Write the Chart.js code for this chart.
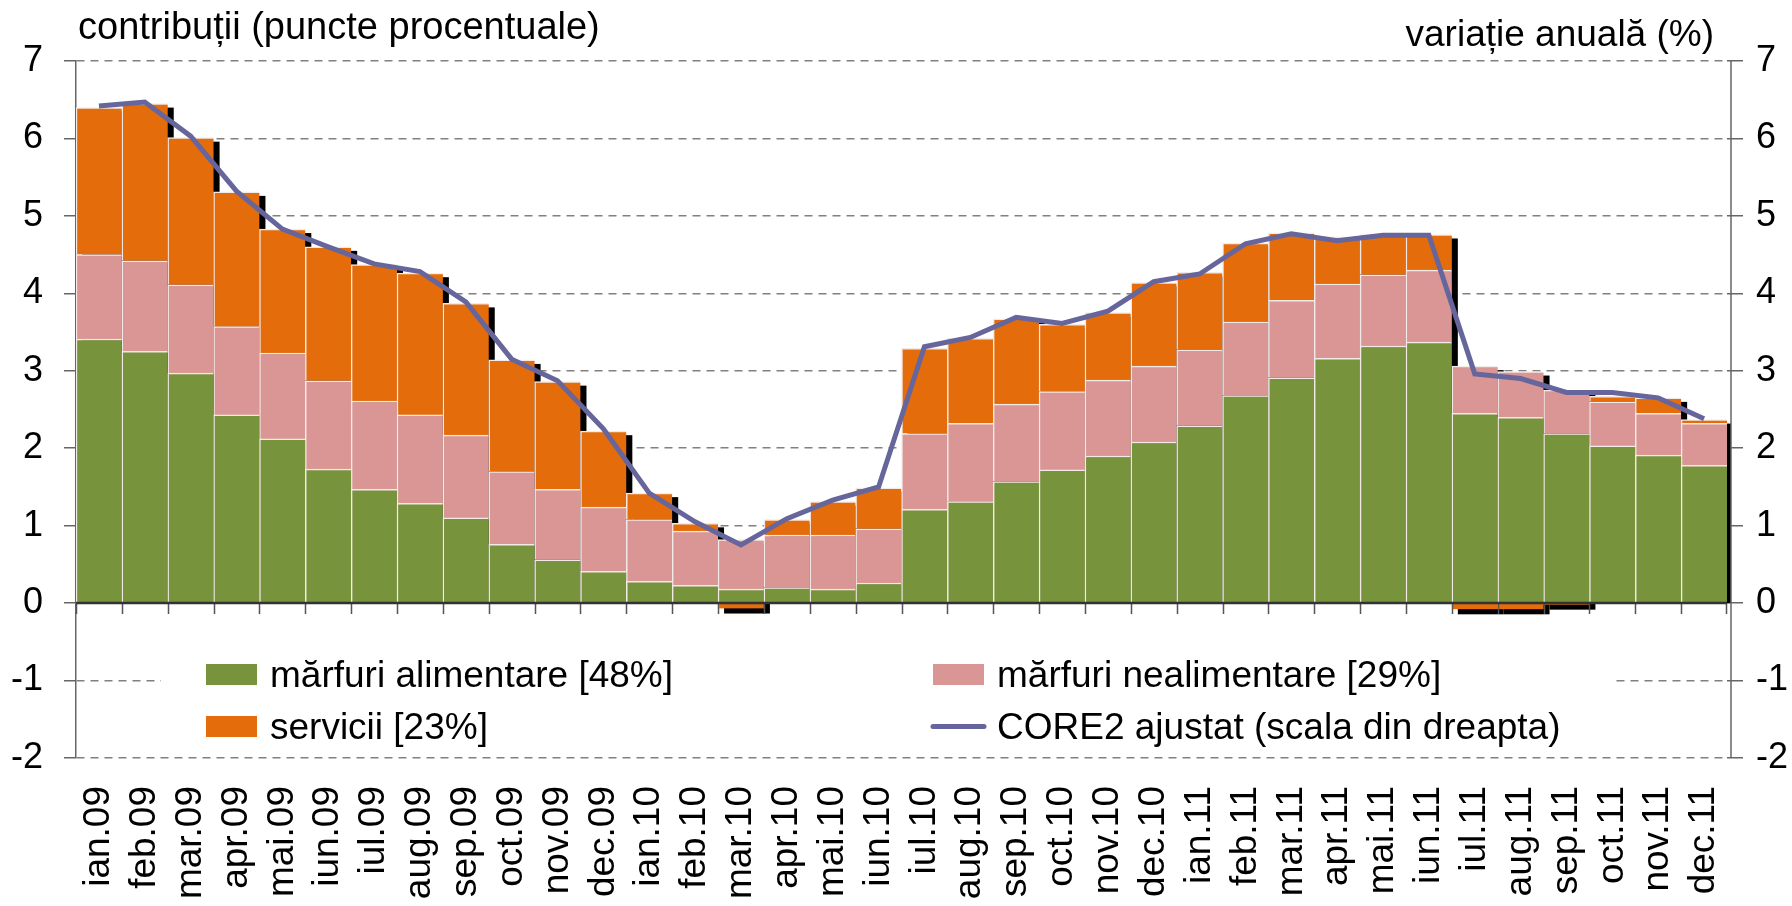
<!DOCTYPE html>
<html lang="ro">
<head>
<meta charset="utf-8">
<title>Contribuții la inflația CORE2 ajustat</title>
<script src="https://cdn.jsdelivr.net/npm/chart.js@4.4.1/dist/chart.umd.min.js"></script>
<style>
  html, body { margin: 0; padding: 0; background: #fff; }
  #wrap { width: 1792px; height: 906px; }
</style>
</head>
<body>
<div id="wrap"><canvas id="chart" width="1792" height="906"></canvas></div>
<script>
// ------------------------------------------------------------
// Date
// ------------------------------------------------------------
const luni = [
  "ian.09", "feb.09", "mar.09", "apr.09", "mai.09", "iun.09",
  "iul.09", "aug.09", "sep.09", "oct.09", "nov.09", "dec.09",
  "ian.10", "feb.10", "mar.10", "apr.10", "mai.10", "iun.10",
  "iul.10", "aug.10", "sep.10", "oct.10", "nov.10", "dec.10",
  "ian.11", "feb.11", "mar.11", "apr.11", "mai.11", "iun.11",
  "iul.11", "aug.11", "sep.11", "oct.11", "nov.11", "dec.11"
];

// contribuții (puncte procentuale)
const alimentare = [
  3.41, 3.25, 2.97, 2.43, 2.12, 1.73, 1.47, 1.29, 1.10, 0.76, 0.56, 0.41,
  0.28, 0.23, 0.18, 0.20, 0.18, 0.26, 1.21, 1.31, 1.57, 1.72, 1.90, 2.08,
  2.29, 2.68, 2.91, 3.16, 3.32, 3.37, 2.45, 2.40, 2.19, 2.03, 1.91, 1.78
];
const nealimentare = [
  1.09, 1.17, 1.14, 1.14, 1.11, 1.14, 1.14, 1.14, 1.07, 0.94, 0.91, 0.83,
  0.80, 0.70, 0.64, 0.68, 0.70, 0.70, 0.98, 1.01, 1.00, 1.01, 0.98, 0.98,
  0.98, 0.95, 1.00, 0.96, 0.92, 0.93, 0.61, 0.59, 0.56, 0.57, 0.54, 0.54
];
const servicii = [
  1.90, 2.03, 1.90, 1.74, 1.60, 1.73, 1.76, 1.83, 1.70, 1.44, 1.39, 0.98,
  0.34, 0.10, -0.07, 0.20, 0.43, 0.53, 1.10, 1.10, 1.10, 0.87, 0.87, 1.08,
  1.00, 1.02, 0.87, 0.61, 0.52, 0.46, -0.08, -0.08, -0.02, 0.07, 0.20, 0.05
];
// variație anuală (%)
const core2 = [
  6.42, 6.47, 6.03, 5.32, 4.83, 4.60, 4.38, 4.28, 3.89, 3.15, 2.87, 2.25,
  1.42, 1.05, 0.75, 1.09, 1.33, 1.50, 3.31, 3.43, 3.69, 3.61, 3.77, 4.15,
  4.25, 4.64, 4.77, 4.68, 4.75, 4.75, 2.96, 2.90, 2.72, 2.72, 2.65, 2.38
];

const yMin = -2, yMax = 7;

// ------------------------------------------------------------
// Stil
// ------------------------------------------------------------
const FONT = "'Liberation Sans', Arial, sans-serif";
const C_ALIM = "#77933c";
const C_NEAL = "#d99694";
const C_SERV = "#e46c0a";
const C_CORE = "#66669c";
const C_SEP  = "#f3e9e6";

// umbra neagră a coloanelor (ca în Excel), sub toate seriile
const shadowPlugin = {
  id: "barShadow",
  beforeDatasetsDraw(chart) {
    const { ctx, chartArea, scales: { y } } = chart;
    const meta = chart.getDatasetMeta(1);
    const y0 = y.getPixelForValue(0);
    ctx.save();
    ctx.beginPath();
    ctx.rect(chartArea.left, chartArea.top, chartArea.right + 4 - chartArea.left, chartArea.bottom - chartArea.top);
    ctx.clip();
    ctx.fillStyle = "#000";
    meta.data.forEach((bar, i) => {
      const vals = [alimentare[i], nealimentare[i], servicii[i]];
      const pos = vals.filter(v => v > 0).reduce((a, b) => a + b, 0);
      const neg = vals.filter(v => v < 0).reduce((a, b) => a + b, 0);
      const left = bar.x - bar.width / 2 + 6;
      if (pos > 0) {
        const top = y.getPixelForValue(pos) + 4;
        ctx.fillRect(left, top, bar.width, y0 - top);
      }
      if (neg < 0) {
        const bot = y.getPixelForValue(neg) + 5;
        ctx.fillRect(left, y0, bar.width, bot - y0);
      }
    });
    ctx.restore();
  }
};

// axa categoriilor la 0, axa din dreapta, legenda și titlurile
const decorPlugin = {
  id: "decor",
  afterDatasetsDraw(chart) {
    const { ctx, chartArea, scales: { y } } = chart;
    const y0 = y.getPixelForValue(0);
    const meta = chart.getDatasetMeta(1);

    ctx.save();
    ctx.strokeStyle = "#555";
    ctx.lineWidth = 1.5;
    ctx.beginPath();
    meta.data.forEach((bar, i) => {
      const xl = Math.round(bar.x - bar.width / 2) + 0.5;
      ctx.moveTo(xl, y0);
      ctx.lineTo(xl, y0 + 11);
      if (i === meta.data.length - 1) {
        const xr = Math.round(bar.x + bar.width / 2) - 0.5;
        ctx.moveTo(xr, y0);
        ctx.lineTo(xr, y0 + 11);
      }
    });
    ctx.stroke();

    ctx.strokeStyle = "#333";
    ctx.lineWidth = 2.5;
    ctx.beginPath();
    ctx.moveTo(chartArea.left, y0);
    ctx.lineTo(chartArea.right, y0);
    ctx.stroke();

    // axa secundară
    ctx.strokeStyle = "#666";
    ctx.lineWidth = 1.5;
    ctx.beginPath();
    ctx.moveTo(chartArea.right + 4, chartArea.top);
    ctx.lineTo(chartArea.right + 4, chartArea.bottom);
    ctx.stroke();
    ctx.restore();
  },
  afterDraw(chart) {
    const { ctx } = chart;
    ctx.save();
    // legenda
    ctx.fillStyle = "#fff";
    ctx.fillRect(161, 632, 1451, 118);
    ctx.font = "37px " + FONT;
    ctx.textBaseline = "alphabetic";
    ctx.textAlign = "left";

    const items = [
      { type: "box", color: C_ALIM, text: chart.data.datasets[1].label, x: 206, y: 664 },
      { type: "box", color: C_SERV, text: chart.data.datasets[3].label, x: 206, y: 716 },
      { type: "box", color: C_NEAL, text: chart.data.datasets[2].label, x: 933, y: 664 },
      { type: "line", color: C_CORE, text: chart.data.datasets[0].label, x: 933, y: 716 }
    ];
    items.forEach(it => {
      if (it.type === "box") {
        ctx.fillStyle = it.color;
        ctx.fillRect(it.x, it.y, 51, 21);
      } else {
        ctx.strokeStyle = it.color;
        ctx.lineWidth = 5;
        ctx.lineCap = "round";
        ctx.beginPath();
        ctx.moveTo(it.x, it.y + 10.5);
        ctx.lineTo(it.x + 51, it.y + 10.5);
        ctx.stroke();
      }
      ctx.fillStyle = "#000";
      ctx.fillText(it.text, it.x + 64, it.y + 23);
    });

    // titluri axe
    ctx.textAlign = "right";
    ctx.fillText("variație anuală (%)", 1714, 46);
    ctx.textAlign = "left";
    ctx.font = "38px " + FONT;
    ctx.fillText("contribuții (puncte procentuale)", 78, 39);
    ctx.restore();
  }
};

const tickFont = { family: FONT, size: 36 };

new Chart(document.getElementById("chart"), {
  type: "bar",
  data: {
    labels: luni,
    datasets: [
      {
        type: "line",
        label: "CORE2 ajustat (scala din dreapta)",
        data: core2,
        yAxisID: "y1",
        borderColor: C_CORE,
        borderWidth: 5,
        pointRadius: 0,
        tension: 0,
        fill: false,
        order: 0
      },
      {
        label: "mărfuri alimentare [48%]",
        data: alimentare,
        backgroundColor: C_ALIM,
        borderColor: C_SEP,
        borderWidth: { top: 1.5, left: 1.5, right: 0, bottom: 0 },
        stack: "s",
        order: 1
      },
      {
        label: "mărfuri nealimentare [29%]",
        data: nealimentare,
        backgroundColor: C_NEAL,
        borderColor: C_SEP,
        borderWidth: { top: 1.5, left: 1.5, right: 0, bottom: 0 },
        stack: "s",
        order: 1
      },
      {
        label: "servicii [23%]",
        data: servicii,
        backgroundColor: C_SERV,
        borderColor: C_SEP,
        borderWidth: { top: 1.5, left: 1.5, right: 0, bottom: 0 },
        stack: "s",
        order: 1
      }
    ]
  },
  options: {
    responsive: false,
    devicePixelRatio: 1,
    animation: false,
    layout: { padding: { top: 61, left: 0, right: 0, bottom: 0 } },
    datasets: { bar: { barPercentage: 1, categoryPercentage: 1 } },
    plugins: {
      legend: { display: false },
      tooltip: { enabled: false }
    },
    scales: {
      x: {
        stacked: true,
        grid: { display: false, drawTicks: false },
        border: { display: false },
        ticks: {
          autoSkip: false, minRotation: 90, maxRotation: 90,
          padding: 28, color: "#000", font: { family: FONT, size: 37 }
        },
        afterFit: s => { s.height = 148; }
      },
      y: {
        position: "left",
        stacked: true,
        min: yMin, max: yMax,
        z: 1,
        ticks: { stepSize: 1, padding: 21, color: "#000", font: tickFont },
        grid: {
          color: c => (c.tick && c.tick.value === 0) ? "rgba(0,0,0,0)" : "#808080",
          lineWidth: 1.5,
          tickLength: 12,
          tickColor: "#666",
          tickBorderDash: []
        },
        border: { display: true, color: "#666", width: 1.5, dash: [8, 6] },
        afterFit: s => { s.width = 76; }
      },
      y1: {
        position: "right",
        min: yMin, max: yMax,
        z: 1,
        ticks: { stepSize: 1, padding: 13, color: "#000", font: tickFont },
        grid: {
          drawOnChartArea: false,
          tickLength: 16,
          tickColor: "#666",
          lineWidth: 1.5,
          tickBorderDash: []
        },
        border: { display: false },
        afterFit: s => { s.width = 65; }
      }
    }
  },
  plugins: [shadowPlugin, decorPlugin]
});
</script>
</body>
</html>
